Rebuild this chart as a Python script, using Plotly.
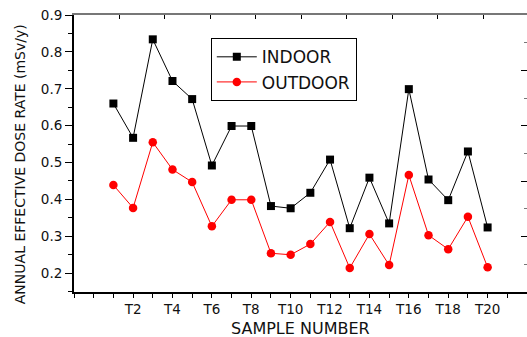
import plotly.graph_objects as go

samples = list(range(1, 21))
indoor = [0.660, 0.567, 0.834, 0.721, 0.672, 0.492, 0.599, 0.599, 0.382, 0.376,
          0.418, 0.508, 0.322, 0.459, 0.335, 0.699, 0.454, 0.398, 0.530, 0.324]
outdoor = [0.439, 0.377, 0.555, 0.481, 0.447, 0.327, 0.399, 0.399, 0.254, 0.250,
           0.279, 0.339, 0.214, 0.306, 0.222, 0.466, 0.303, 0.265, 0.353, 0.216]
tick_vals = [2, 4, 6, 8, 10, 12, 14, 16, 18, 20]
tick_text = ["T2", "T4", "T6", "T8", "T10", "T12", "T14", "T16", "T18", "T20"]
y_tick_vals = [0.2, 0.3, 0.4, 0.5, 0.6, 0.7, 0.8, 0.9]
y_tick_text = ["0.2", "0.3", "0.4", "0.5", "0.6", "0.7", "0.8", "0.9"]

FONT = "DejaVu Sans, Arial, sans-serif"
TXT = "#111111"

fig = go.Figure()
fig.add_trace(go.Scatter(x=samples, y=indoor, mode="lines+markers", name="INDOOR",
                         line=dict(color="black", width=1),
                         marker=dict(symbol="square", size=8, color="black")))
fig.add_trace(go.Scatter(x=samples, y=outdoor, mode="lines+markers", name="OUTDOOR",
                         line=dict(color="red", width=1),
                         marker=dict(symbol="circle", size=8.5, color="red")))
# invisible trace to activate the frame axes
fig.add_trace(go.Scatter(x=[0], y=[0], xaxis="x2", yaxis="y2", mode="markers",
                         marker=dict(opacity=0), showlegend=False, hoverinfo="skip"))

fig.update_layout(
    width=527, height=337,
    margin=dict(l=74, r=0, t=15, b=45, autoexpand=False),
    paper_bgcolor="white", plot_bgcolor="white",
    font=dict(family=FONT, color=TXT),
    showlegend=True,
    legend=dict(x=0.302, y=0.916, xanchor="left", yanchor="top",
                bordercolor="black", borderwidth=1, bgcolor="white",
                font=dict(size=17, family=FONT, color=TXT),
                tracegroupgap=0, itemwidth=40),
    xaxis=dict(range=[-1, 22], tickvals=tick_vals, ticktext=tick_text,
               ticks="outside", ticklen=4, tickcolor="black", tickwidth=1,
               minor=dict(dtick=1, tick0=0, ticks="outside", ticklen=4, tickcolor="black"),
               showline=True, linecolor="black", linewidth=1.5,
               showgrid=False, zeroline=False, automargin=False,
               tickfont=dict(size=13.5, family=FONT, color=TXT)),
    yaxis=dict(range=[0.149, 0.9], tickvals=y_tick_vals, ticktext=y_tick_text,
               ticks="outside", ticklen=7, tickcolor="black", tickwidth=1,
               minor=dict(tickvals=[0.15, 0.25, 0.35, 0.45, 0.55, 0.65, 0.75, 0.85],
                          ticks="outside", ticklen=4, tickcolor="black"),
               showline=True, linecolor="black", linewidth=2,
               showgrid=False, zeroline=False, automargin=False,
               tickfont=dict(size=13.5, family=FONT, color=TXT)),
    xaxis2=dict(overlaying="x", side="top", range=[0, 9.96], dtick=1, tick0=0,
                ticks="inside", ticklen=4, tickcolor="black", showticklabels=False,
                showline=True, linecolor="#777", linewidth=1.5, automargin=False,
                showgrid=False, zeroline=False),
    yaxis2=dict(overlaying="y", side="right", range=[0, 10], dtick=2, tick0=0,
                ticks="inside", ticklen=6, tickcolor="black", showticklabels=False,
                minor=dict(dtick=2, tick0=1, ticks="inside", ticklen=3, tickcolor="#777"),
                showline=False, showgrid=False, zeroline=False, automargin=False),
    annotations=[
        dict(text="SAMPLE NUMBER", xref="paper", yref="paper", x=0.5, y=-0.13,
             xanchor="center", yanchor="middle", showarrow=False,
             font=dict(size=16, family=FONT, color=TXT)),
        dict(text="ANNUAL EFFECTIVE DOSE RATE (mSv/y)", xref="paper", yref="paper",
             x=-0.12, y=0.46, xanchor="center", yanchor="middle", showarrow=False,
             textangle=-90, font=dict(size=14, family=FONT, color=TXT)),
    ],
)

fig.write_html("out.html", config={"displayModeBar": False},
               post_script="document.body.style.margin='0';")
